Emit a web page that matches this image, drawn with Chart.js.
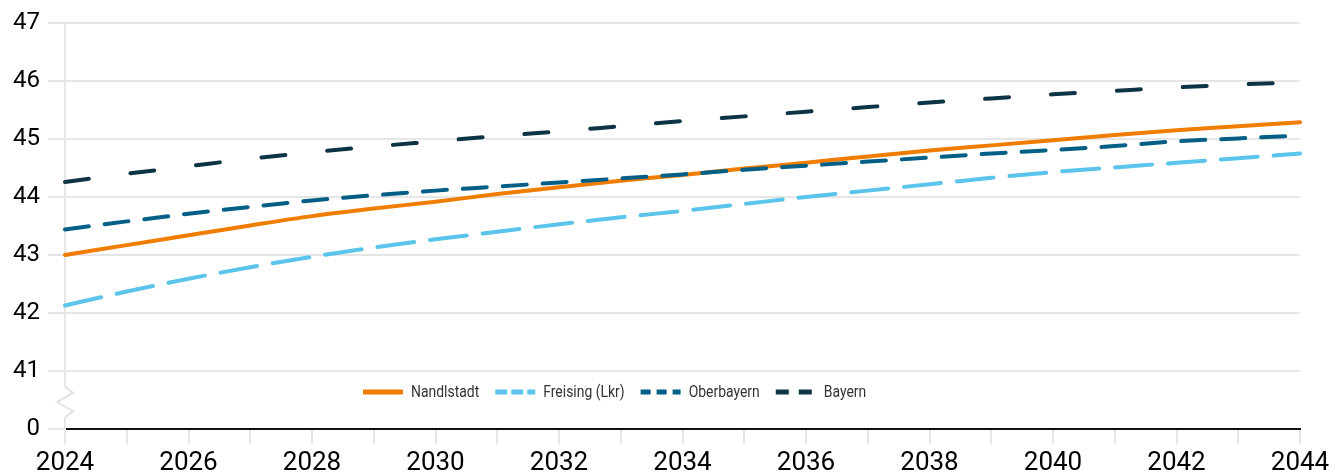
<!DOCTYPE html>
<html>
<head>
<meta charset="utf-8">
<script src="https://cdn.jsdelivr.net/npm/chart.js@4"></script>
<style>
    html, body { margin: 0; padding: 0; background: #fff; }
    #wrap { width: 1335px; height: 476px; }
</style>
</head>
<body>
<div id="wrap"><canvas id="chart" width="1335" height="476"></canvas></div>
<script>
const years = ['2024', '2025', '2026', '2027', '2028', '2029', '2030', '2031', '2032', '2033', '2034',
    '2035', '2036', '2037', '2038', '2039', '2040', '2041', '2042', '2043', '2044'];

const nandlstadt = [43.00, 43.17, 43.34, 43.51, 43.67, 43.80, 43.92, 44.05, 44.17, 44.28, 44.38,
    44.49, 44.59, 44.70, 44.80, 44.89, 44.98, 45.07, 45.15, 45.22, 45.29];
const freising = [42.13, 42.37, 42.59, 42.79, 42.97, 43.13, 43.27, 43.40, 43.53, 43.65, 43.76,
    43.88, 44.00, 44.11, 44.22, 44.33, 44.43, 44.51, 44.59, 44.67, 44.75];
const oberbayern = [43.44, 43.58, 43.71, 43.83, 43.94, 44.03, 44.11, 44.18, 44.25, 44.32, 44.39,
    44.47, 44.54, 44.61, 44.68, 44.75, 44.81, 44.88, 44.96, 45.01, 45.06];
const bayern = [44.26, 44.40, 44.53, 44.66, 44.77, 44.87, 44.96, 45.05, 45.13, 45.22, 45.31,
    45.39, 45.47, 45.55, 45.63, 45.70, 45.77, 45.83, 45.89, 45.94, 45.98];

const seriesNames = ['Nandlstadt', 'Freising (Lkr)', 'Oberbayern', 'Bayern'];

// y axis runs 40..47, the bottom step is shown as "0" (axis break)
const yTicks = [40, 41, 42, 43, 44, 45, 46, 47];
const yTickLabels = ['0', '41', '42', '43', '44', '45', '46', '47'];

const LINE_COLORS = ['#f07d00', '#5bc4ea', '#035f86', '#0c3446'];
const LINE_DASH = [[], [37, 16], [24, 16], [24, 42]];
const LEGEND_DASH = [[], [12, 4], [10, 6], [13, 10]];
const GRID = '#e6e6e6';

const axisBreak = {
    id: 'axisBreak',
    afterDraw(chart) {
        const {ctx, chartArea, scales: {y}} = chart;
        const x0 = chartArea.left;
        const top = y.getPixelForValue(40.73);
        const bot = y.getPixelForValue(40.2);
        const h = bot - top;
        ctx.save();
        ctx.fillStyle = '#fff';
        ctx.fillRect(x0 - 3, top, 6, h);
        ctx.beginPath();
        ctx.strokeStyle = '#e2e2e2';
        ctx.lineWidth = 2;
        ctx.moveTo(x0, top);
        ctx.lineTo(x0 + 8, top + h * 0.2);
        ctx.lineTo(x0 - 8, top + h * 0.5);
        ctx.lineTo(x0 + 8, top + h * 0.8);
        ctx.lineTo(x0, bot);
        ctx.stroke();
        ctx.restore();
    }
};

const innerLegend = {
    id: 'innerLegend',
    afterDraw(chart) {
        const {ctx, chartArea, scales: {y}} = chart;
        const cy = y.getPixelForValue(40.64);
        const squeeze = 0.82;
        let x = chartArea.left + 298;
        ctx.save();
        ctx.font = '17px Roboto';
        ctx.textBaseline = 'middle';
        chart.data.datasets.forEach((ds, i) => {
            ctx.beginPath();
            ctx.setLineDash(LEGEND_DASH[i]);
            ctx.lineWidth = 5;
            ctx.lineCap = 'butt';
            ctx.strokeStyle = ds.borderColor;
            ctx.moveTo(x, cy);
            ctx.lineTo(x + 40, cy);
            ctx.stroke();
            ctx.setLineDash([]);
            x += 48;
            const w = ctx.measureText(ds.label).width * squeeze;
            ctx.save();
            ctx.translate(x, cy);
            ctx.scale(squeeze, 1);
            ctx.fillStyle = '#333';
            ctx.fillText(ds.label, 0, 1);
            ctx.restore();
            x += w + 16;
        });
        ctx.restore();
    }
};

const values = [nandlstadt, freising, oberbayern, bayern];
const datasets = values.map((data, i) => ({
    label: seriesNames[i],
    data: data,
    borderColor: LINE_COLORS[i],
    backgroundColor: LINE_COLORS[i],
    borderDash: LINE_DASH[i],
    order: i === 0 ? 1 : 0
}));

new Chart(document.getElementById('chart'), {
    type: 'line',
    data: {
        labels: years,
        datasets: datasets
    },
    options: {
        responsive: false,
        animation: false,
        devicePixelRatio: 1,
        layout: {
            padding: {top: 23, right: 35, left: 0, bottom: 0}
        },
        elements: {
            point: {radius: 0},
            line: {
                borderWidth: 4,
                borderCapStyle: 'round',
                cubicInterpolationMode: 'monotone'
            }
        },
        plugins: {
            legend: {display: false},
            tooltip: {enabled: false}
        },
        scales: {
            x: {
                offset: false,
                afterFit(scale) {
                    scale.height = 47;
                },
                grid: {
                    drawOnChartArea: false,
                    tickLength: 15,
                    tickColor: GRID,
                    lineWidth: 2
                },
                border: {color: '#111', width: 2},
                ticks: {
                    autoSkip: false,
                    maxRotation: 0,
                    padding: 4,
                    color: '#000',
                    font: {family: 'Roboto', size: 26},
                    callback(v, i) {
                        return i % 2 === 0 ? this.getLabelForValue(v) : '';
                    }
                }
            },
            y: {
                min: 40,
                max: 47,
                afterFit(scale) {
                    scale.width = 65;
                },
                afterBuildTicks(scale) {
                    scale.ticks = yTicks.map(v => ({value: v}));
                },
                grid: {
                    color: c => (c.tick && c.tick.value === 40) ? '#111' : GRID,
                    tickColor: GRID,
                    tickLength: 17,
                    lineWidth: 2
                },
                border: {color: GRID, width: 2},
                ticks: {
                    padding: 8,
                    color: '#000',
                    font: {family: 'Roboto', size: 24},
                    callback: v => yTickLabels[yTicks.indexOf(v)]
                }
            }
        }
    },
    plugins: [axisBreak, innerLegend]
});
</script>
</body>
</html>
